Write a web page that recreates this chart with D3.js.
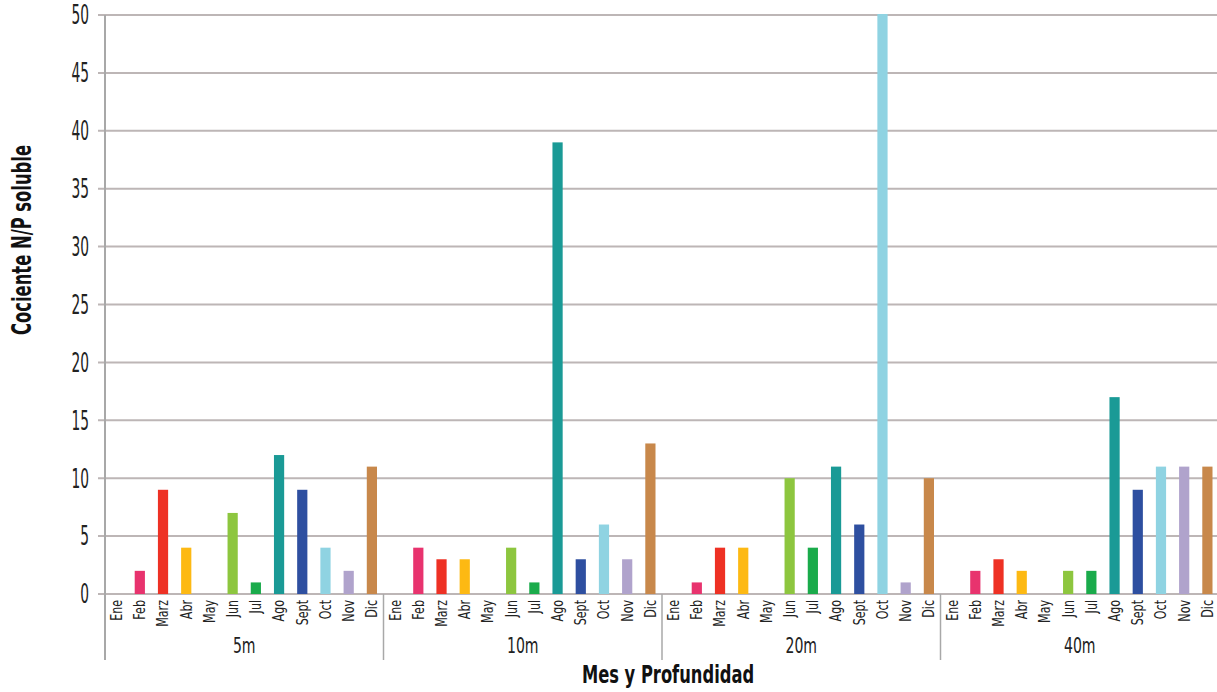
<!DOCTYPE html>
<html><head><meta charset="utf-8">
<script src="https://cdn.jsdelivr.net/npm/d3@7"></script>
<style>
body{margin:0;background:#fff;}
text{font-family:"DejaVu Sans",sans-serif;}
</style></head><body>
<svg id="c" width="1217" height="692"></svg>
<script>
const groups = ["5m","10m","20m","40m"];
const months = ["Ene","Feb","Marz","Abr","May","Jun","Jul","Ago","Sept","Oct","Nov","Dic"];
const colors = ["#e8336e","#e8336e","#ee3124","#fdb913","#999999","#8dc63f","#1aab4b","#1a9a96","#2e4fa0","#8fd3e2","#b0a3cc","#c8884b"];
const v5m  = [0,2,9,4,0,7,1,12,9,4,2,11];
const v10m = [0,4,3,3,0,4,1,39,3,6,3,13];
const v20m = [0,1,4,4,0,10,4,11,6,52,1,10];
const v40m = [0,2,3,2,0,2,2,17,9,11,11,11];
const yTicks = [0,5,10,15,20,25,30,35,40,45,50];
const series = [v5m,v10m,v20m,v40m];

const svg = d3.select("#c");
const pL = 105, pR = 1219, pT = 15, pB = 594;
const y = d3.scaleLinear().domain([0,50]).range([pB, pT]);
const gx = d3.scaleBand().domain(groups).range([pL, pR]).padding(0);
const mx = d3.scaleBand().domain(months).range([0, gx.bandwidth()]).paddingInner(0.56).paddingOuter(0.28);

svg.append("defs").append("clipPath").attr("id","pc")
  .append("rect").attr("x",pL).attr("y",pT-1).attr("width",pR-pL).attr("height",pB-pT+1);

// gridlines
svg.append("g").selectAll("line").data(yTicks).join("line")
  .attr("x1",pL-7).attr("x2",pR).attr("y1",d=>y(d)).attr("y2",d=>y(d))
  .attr("stroke","#bdb6b6").attr("stroke-width",2);

// y labels (condensed by horizontal scaling)
svg.append("g").selectAll("text").data(yTicks).join("text")
  .attr("transform",d=>`translate(89,${y(d)}) scale(0.53,1)`)
  .attr("dy","0.36em").attr("text-anchor","end")
  .attr("font-size",26).attr("fill","#222").text(d=>d);

// bars
const bars = svg.append("g").attr("clip-path","url(#pc)");
groups.forEach((g,gi)=>{
  bars.append("g").selectAll("rect").data(series[gi].map((v,i)=>({v,i})).filter(d=>d.v>0)).join("rect")
    .attr("x",d=>gx(g)+mx(months[d.i])).attr("width",mx.bandwidth())
    .attr("y",d=>y(d.v)).attr("height",d=>y(0)-y(d.v))
    .attr("fill",d=>colors[d.i]);
});

// left axis line
svg.append("line").attr("x1",pL).attr("x2",pL).attr("y1",pT).attr("y2",660)
  .attr("stroke","#a8a8a8").attr("stroke-width",2);
// group separators
svg.append("g").selectAll("line").data(groups.slice(1)).join("line")
  .attr("x1",d=>gx(d)).attr("x2",d=>gx(d)).attr("y1",pB).attr("y2",660)
  .attr("stroke","#a8a8a8").attr("stroke-width",1.5);

// month labels
groups.forEach(g=>{
  svg.append("g").selectAll("text").data(months).join("text")
    .attr("transform",d=>`translate(${gx(g)+mx(d)+mx.bandwidth()/2},600) rotate(-90) scale(0.74,1)`)
    .attr("text-anchor","end").attr("dy","0.36em")
    .attr("font-size",15).attr("fill","#222").text(d=>d);
});
// group labels
svg.append("g").selectAll("text").data(groups).join("text")
  .attr("transform",d=>`translate(${gx(d)+gx.bandwidth()/2},653) scale(0.64,1)`)
  .attr("text-anchor","middle")
  .attr("font-size",22).attr("fill","#222").text(d=>d);

// axis titles
svg.append("text").attr("transform","translate(668,683) scale(0.68,1)").attr("text-anchor","middle")
  .attr("font-size",24).attr("font-weight","bold").attr("fill","#111").text("Mes y Profundidad");
svg.append("text").attr("transform","translate(31,240) rotate(-90) scale(0.63,1)").attr("text-anchor","middle")
  .attr("font-size",26).attr("font-weight","bold").attr("fill","#111").text("Cociente N/P soluble");
</script></body></html>
